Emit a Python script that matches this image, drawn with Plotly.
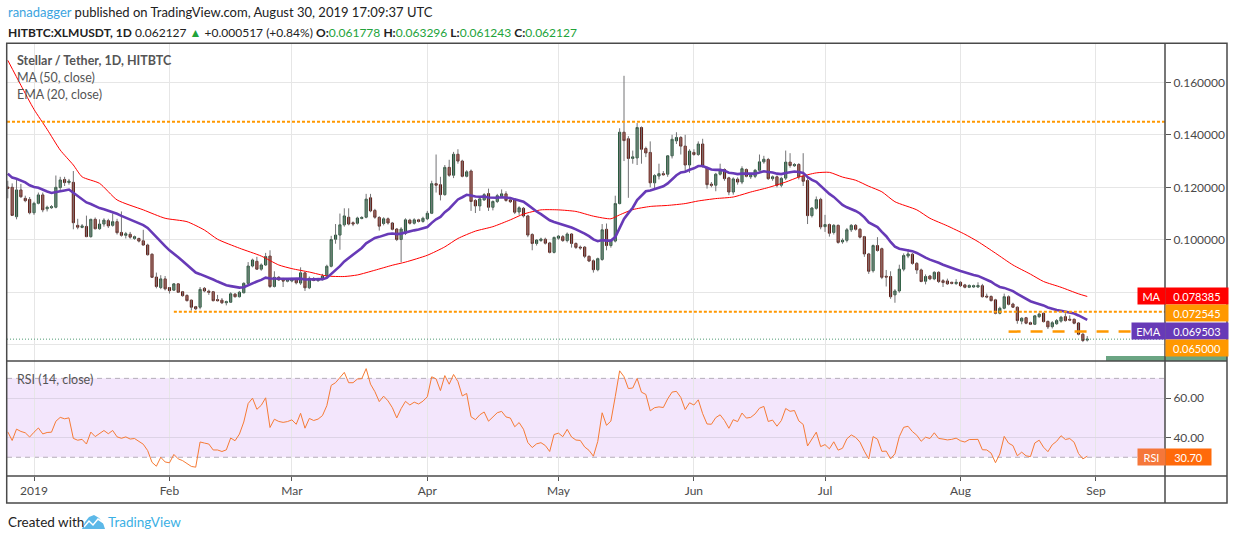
import numpy as np
import pandas as pd
import plotly.graph_objects as go

# daily candles, Dec 26 2018 .. Aug 30 2019
DATES = pd.date_range("2018-12-26", "2019-08-30", freq="D")

OPEN = [
    # Dec 26-31
    0.1201, 0.1200, 0.1088, 0.1190, 0.1158, 0.1154,
    # Jan
    0.1103, 0.1139, 0.1171, 0.1118, 0.1122, 0.1124, 0.1199, 0.1230, 0.1218, 0.1219,
    0.1055, 0.1047, 0.1051, 0.1012, 0.1078, 0.1042, 0.1060, 0.1073, 0.1055, 0.1069,
    0.1028, 0.1017, 0.1021, 0.1005, 0.1005, 0.0996, 0.0980, 0.0945, 0.0858, 0.0818, 0.0851,
    # Feb
    0.0818, 0.0808, 0.0832, 0.0802, 0.0788, 0.0770, 0.0745, 0.0743, 0.0815, 0.0804,
    0.0802, 0.0772, 0.0770, 0.0760, 0.0762, 0.0793, 0.0783, 0.0798, 0.0834, 0.0900,
    0.0918, 0.0888, 0.0904, 0.0938, 0.0822, 0.0857, 0.0846, 0.0842,
    # Mar
    0.0843, 0.0850, 0.0835, 0.0874, 0.0817, 0.0852, 0.0844, 0.0848, 0.0862, 0.0899,
    0.1002, 0.1018, 0.1057, 0.1086, 0.1065, 0.1063, 0.1081, 0.1086, 0.1160, 0.1112,
    0.1085, 0.1062, 0.1080, 0.1064, 0.1041, 0.1001, 0.1025, 0.1075, 0.1063, 0.1076, 0.1070,
    # Apr
    0.1080, 0.1101, 0.1214, 0.1210, 0.1172, 0.1276, 0.1246, 0.1326, 0.1300, 0.1242,
    0.1262, 0.1150, 0.1129, 0.1152, 0.1176, 0.1124, 0.1146, 0.1166, 0.1175, 0.1152,
    0.1152, 0.1106, 0.1120, 0.1091, 0.1020, 0.0986, 0.0997, 0.1002, 0.0988, 0.0952,
    # May
    0.1006, 0.1012, 0.0997, 0.1022, 0.0986, 0.0972, 0.0972, 0.0937, 0.0920, 0.0886,
    0.0925, 0.1040, 0.0978, 0.0995, 0.1138, 0.1410, 0.1385, 0.1310, 0.1312, 0.1428,
    0.1348, 0.1333, 0.1217, 0.1243, 0.1252, 0.1250, 0.1320, 0.1377, 0.1390, 0.1357, 0.1285,
    # Jun
    0.1333, 0.1325, 0.1365, 0.1275, 0.1212, 0.1208, 0.1250, 0.1268, 0.1236, 0.1182,
    0.1231, 0.1220, 0.1268, 0.1240, 0.1242, 0.1265, 0.1297, 0.1306, 0.1233, 0.1240,
    0.1208, 0.1235, 0.1296, 0.1282, 0.1287, 0.1242, 0.1226, 0.1092, 0.1120, 0.1154,
    # Jul
    0.1050, 0.1058, 0.1028, 0.1055, 0.0992, 0.0998, 0.1038, 0.1055, 0.1040, 0.1012,
    0.0946, 0.0882, 0.0978, 0.0966, 0.0861, 0.0860, 0.0790, 0.0805, 0.0888, 0.0938,
    0.0945, 0.0910, 0.0885, 0.0842, 0.0862, 0.0851, 0.0876, 0.0844, 0.0843, 0.0838, 0.0833,
    # Aug
    0.0838, 0.0828, 0.0819, 0.0820, 0.0820, 0.0825, 0.0785, 0.0784, 0.0771, 0.0720,
    0.0739, 0.0783, 0.0755, 0.0743, 0.0690, 0.0703, 0.0684, 0.0678, 0.0707, 0.0720,
    0.0689, 0.0669, 0.0680, 0.0690, 0.0707, 0.0697, 0.0697, 0.0683, 0.0640, 0.061778,
]

HIGH = [
    0.1225, 0.1215, 0.1228, 0.1213, 0.1168, 0.1163,
    0.1145, 0.1180, 0.1180, 0.1130, 0.1132, 0.1245, 0.1240, 0.1240, 0.1232, 0.1262,
    0.1080, 0.1060, 0.1092, 0.1080, 0.1085, 0.1078, 0.1082, 0.1080, 0.1100, 0.1080,
    0.1108, 0.1030, 0.1030, 0.1016, 0.1008, 0.1038, 0.0985, 0.0948, 0.0875, 0.0865, 0.0862,
    0.0820, 0.0835, 0.0834, 0.0805, 0.0792, 0.0772, 0.0748, 0.0820, 0.0820, 0.0810,
    0.0805, 0.0790, 0.0778, 0.0768, 0.0800, 0.0797, 0.0805, 0.0838, 0.0915, 0.0928,
    0.0935, 0.0910, 0.0950, 0.0960, 0.0880, 0.0862, 0.0855, 0.0850,
    0.0855, 0.0855, 0.0895, 0.0878, 0.0860, 0.0858, 0.0855, 0.0870, 0.0905, 0.1015,
    0.1060, 0.1100, 0.1120, 0.1120, 0.1070, 0.1088, 0.1090, 0.1175, 0.1175, 0.1118,
    0.1090, 0.1086, 0.1085, 0.1068, 0.1045, 0.1048, 0.1082, 0.1080, 0.1082, 0.1080, 0.1088,
    0.1110, 0.1225, 0.1325, 0.1240, 0.1285, 0.1305, 0.1335, 0.1345, 0.1305, 0.1265,
    0.1268, 0.1155, 0.1160, 0.1178, 0.1195, 0.1150, 0.1175, 0.1192, 0.1185, 0.1158,
    0.1158, 0.1128, 0.1125, 0.1095, 0.1025, 0.1002, 0.1008, 0.1008, 0.0992, 0.1012,
    0.1018, 0.1018, 0.1028, 0.1025, 0.0990, 0.0978, 0.0976, 0.0940, 0.0925, 0.0932,
    0.1060, 0.1062, 0.1002, 0.1168, 0.1425, 0.1625, 0.1395, 0.1340, 0.1445, 0.1432,
    0.1355, 0.1375, 0.1250, 0.1290, 0.1262, 0.1322, 0.1400, 0.1410, 0.1395, 0.1400, 0.1345,
    0.1345, 0.1375, 0.1385, 0.1280, 0.1220, 0.1255, 0.1290, 0.1272, 0.1240, 0.1238,
    0.1238, 0.1280, 0.1272, 0.1250, 0.1270, 0.1325, 0.1320, 0.1312, 0.1245, 0.1245,
    0.1240, 0.1340, 0.1330, 0.1292, 0.1292, 0.1330, 0.1235, 0.1125, 0.1165, 0.1160,
    0.1095, 0.1062, 0.1060, 0.1058, 0.1005, 0.1045, 0.1060, 0.1060, 0.1045, 0.1015,
    0.0950, 0.0982, 0.1010, 0.0970, 0.0885, 0.0880, 0.0812, 0.0905, 0.0948, 0.0965,
    0.0950, 0.0915, 0.0890, 0.0868, 0.0866, 0.0880, 0.0880, 0.0850, 0.0852, 0.0840, 0.0850,
    0.0842, 0.0832, 0.0830, 0.0829, 0.0838, 0.0832, 0.0795, 0.0788, 0.0775, 0.0745,
    0.0795, 0.0788, 0.0760, 0.0746, 0.0705, 0.0706, 0.0688, 0.0713, 0.0722, 0.0722,
    0.0692, 0.0690, 0.0698, 0.0710, 0.0720, 0.0712, 0.0700, 0.0686, 0.0645, 0.063296,
]

LOW = [
    0.1158, 0.1091, 0.1078, 0.1160, 0.1143, 0.1097,
    0.1095, 0.1135, 0.1105, 0.1108, 0.1118, 0.1120, 0.1190, 0.1205, 0.1210, 0.1040,
    0.1040, 0.1044, 0.1010, 0.1008, 0.1040, 0.1038, 0.1050, 0.1045, 0.1050, 0.1020,
    0.1012, 0.1005, 0.1004, 0.1000, 0.0990, 0.0978, 0.0940, 0.0855, 0.0815, 0.0812, 0.0807,
    0.0795, 0.0805, 0.0797, 0.0783, 0.0765, 0.0730, 0.0732, 0.0735, 0.0800, 0.0790,
    0.0765, 0.0765, 0.0755, 0.0750, 0.0760, 0.0780, 0.0780, 0.0796, 0.0832, 0.0895,
    0.0885, 0.0882, 0.0900, 0.0816, 0.0818, 0.0843, 0.0820, 0.0838,
    0.0838, 0.0830, 0.0828, 0.0805, 0.0812, 0.0842, 0.0840, 0.0845, 0.0858, 0.0895,
    0.0985, 0.0962, 0.1050, 0.1055, 0.1052, 0.1058, 0.1078, 0.1082, 0.1105, 0.1080,
    0.1035, 0.1055, 0.1058, 0.1036, 0.0995, 0.0915, 0.1018, 0.1058, 0.1058, 0.1066, 0.1065,
    0.1075, 0.1098, 0.1180, 0.1150, 0.1168, 0.1240, 0.1235, 0.1290, 0.1238, 0.1238,
    0.1110, 0.1102, 0.1110, 0.1148, 0.1110, 0.1112, 0.1140, 0.1160, 0.1145, 0.1140,
    0.1098, 0.1095, 0.1085, 0.1010, 0.0960, 0.0978, 0.0992, 0.0982, 0.0948, 0.0948,
    0.1000, 0.0992, 0.0990, 0.0970, 0.0965, 0.0962, 0.0930, 0.0915, 0.0875, 0.0880,
    0.0920, 0.0960, 0.0970, 0.0990, 0.1135, 0.1300, 0.1160, 0.1290, 0.1285, 0.1290,
    0.1315, 0.1200, 0.1195, 0.1230, 0.1245, 0.1240, 0.1310, 0.1365, 0.1325, 0.1260, 0.1255,
    0.1320, 0.1320, 0.1275, 0.1195, 0.1200, 0.1185, 0.1245, 0.1225, 0.1170, 0.1172,
    0.1210, 0.1212, 0.1238, 0.1232, 0.1235, 0.1260, 0.1290, 0.1228, 0.1225, 0.1200,
    0.1200, 0.1228, 0.1275, 0.1278, 0.1230, 0.1205, 0.1060, 0.1085, 0.1115, 0.1040,
    0.1030, 0.1012, 0.1020, 0.0985, 0.0985, 0.0990, 0.1030, 0.1035, 0.1005, 0.0935,
    0.0870, 0.0875, 0.0955, 0.0850, 0.0822, 0.0775, 0.0760, 0.0798, 0.0880, 0.0930,
    0.0905, 0.0870, 0.0838, 0.0830, 0.0846, 0.0846, 0.0835, 0.0820, 0.0828, 0.0830, 0.0828,
    0.0820, 0.0815, 0.0816, 0.0817, 0.0817, 0.0780, 0.0777, 0.0765, 0.0716, 0.0716,
    0.0735, 0.0750, 0.0740, 0.0680, 0.0678, 0.0678, 0.0675, 0.0675, 0.0702, 0.0685,
    0.0660, 0.0662, 0.0676, 0.0684, 0.0688, 0.0690, 0.0678, 0.0636, 0.0610, 0.061243,
]

CLOSE = [
    0.1196, 0.1093, 0.1190, 0.1164, 0.1149, 0.1103,
    0.1139, 0.1171, 0.1114, 0.1124, 0.1126, 0.1200, 0.1228, 0.1218, 0.1224, 0.1065,
    0.1048, 0.1053, 0.1012, 0.1078, 0.1042, 0.1060, 0.1075, 0.1053, 0.1069, 0.1027,
    0.1017, 0.1023, 0.1010, 0.1012, 0.0995, 0.0980, 0.0943, 0.0857, 0.0822, 0.0851, 0.0813,
    0.0806, 0.0832, 0.0800, 0.0787, 0.0768, 0.0743, 0.0737, 0.0811, 0.0805, 0.0800,
    0.0768, 0.0768, 0.0760, 0.0764, 0.0794, 0.0783, 0.0800, 0.0834, 0.0900, 0.0923,
    0.0888, 0.0904, 0.0936, 0.0822, 0.0857, 0.0847, 0.0843, 0.0846,
    0.0852, 0.0836, 0.0874, 0.0817, 0.0853, 0.0845, 0.0850, 0.0862, 0.0899, 0.1001,
    0.1018, 0.1057, 0.1091, 0.1060, 0.1060, 0.1083, 0.1085, 0.1155, 0.1110, 0.1086,
    0.1052, 0.1080, 0.1064, 0.1040, 0.1001, 0.1041, 0.1076, 0.1063, 0.1076, 0.1070, 0.1082,
    0.1101, 0.1214, 0.1208, 0.1172, 0.1276, 0.1246, 0.1326, 0.1300, 0.1242, 0.1259,
    0.1146, 0.1129, 0.1156, 0.1172, 0.1124, 0.1146, 0.1168, 0.1175, 0.1150, 0.1145,
    0.1105, 0.1122, 0.1091, 0.1018, 0.0986, 0.0999, 0.1003, 0.0987, 0.0952, 0.1009,
    0.1014, 0.0997, 0.1022, 0.0986, 0.0971, 0.0969, 0.0937, 0.0919, 0.0886, 0.0928,
    0.1038, 0.0978, 0.0997, 0.1138, 0.1410, 0.1378, 0.1310, 0.1316, 0.1428, 0.1345,
    0.1331, 0.1217, 0.1245, 0.1252, 0.1248, 0.1320, 0.1383, 0.1390, 0.1357, 0.1285, 0.1338,
    0.1325, 0.1365, 0.1282, 0.1210, 0.1208, 0.1250, 0.1268, 0.1233, 0.1182, 0.1232,
    0.1220, 0.1271, 0.1242, 0.1246, 0.1265, 0.1297, 0.1307, 0.1233, 0.1240, 0.1208,
    0.1234, 0.1296, 0.1283, 0.1287, 0.1240, 0.1223, 0.1092, 0.1121, 0.1153, 0.1049,
    0.1058, 0.1025, 0.1055, 0.0990, 0.0998, 0.1038, 0.1055, 0.1040, 0.1010, 0.0946,
    0.0880, 0.0978, 0.0959, 0.0857, 0.0858, 0.0783, 0.0805, 0.0888, 0.0940, 0.0946,
    0.0910, 0.0885, 0.0841, 0.0860, 0.0851, 0.0876, 0.0841, 0.0837, 0.0832, 0.0834, 0.0838,
    0.0825, 0.0819, 0.0826, 0.0825, 0.0826, 0.0783, 0.0782, 0.0768, 0.0720, 0.0739,
    0.0783, 0.0754, 0.0743, 0.0692, 0.0701, 0.0682, 0.0678, 0.0710, 0.0717, 0.0688,
    0.0668, 0.0684, 0.0692, 0.0705, 0.0692, 0.0694, 0.0682, 0.0640, 0.06161, 0.062127,
]

# MA(50) (history before Dec 26 is not on the chart)
MA50_DATES = [
    "2018-12-26", "2018-12-29", "2019-01-01", "2019-01-04", "2019-01-07", "2019-01-10",
    "2019-01-12", "2019-01-16", "2019-01-20", "2019-01-26", "2019-01-31", "2019-02-05",
    "2019-02-09", "2019-02-12", "2019-02-17", "2019-02-22", "2019-02-26", "2019-03-01",
    "2019-03-05", "2019-03-09", "2019-03-13", "2019-03-16", "2019-03-20", "2019-03-24",
    "2019-03-27", "2019-04-01", "2019-04-05", "2019-04-08", "2019-04-12", "2019-04-16",
    "2019-04-20", "2019-04-23", "2019-04-27", "2019-05-01", "2019-05-05", "2019-05-09",
    "2019-05-13", "2019-05-15", "2019-05-18", "2019-05-22", "2019-05-26", "2019-05-30",
    "2019-06-02", "2019-06-06", "2019-06-10", "2019-06-14", "2019-06-18", "2019-06-22",
    "2019-06-25", "2019-06-29", "2019-07-02", "2019-07-05", "2019-07-08", "2019-07-11",
    "2019-07-14", "2019-07-17", "2019-07-22", "2019-07-25", "2019-07-29", "2019-08-02",
    "2019-08-05", "2019-08-09", "2019-08-13", "2019-08-17", "2019-08-20", "2019-08-24",
    "2019-08-28", "2019-08-30",
]
MA50_VALUES = [
    0.1684, 0.1589, 0.1497, 0.1421, 0.1342, 0.1285,
    0.1240, 0.1215, 0.1152, 0.1114, 0.1082, 0.1069,
    0.1037, 0.1002, 0.0968, 0.0938, 0.0904, 0.0890,
    0.0877, 0.0862, 0.0860, 0.0866, 0.0884, 0.0903,
    0.0915, 0.0941, 0.0973, 0.1005, 0.1033, 0.1050,
    0.1076, 0.1098, 0.1114, 0.1114, 0.1108, 0.1090,
    0.1080, 0.1095, 0.1115, 0.1127, 0.1131, 0.1138,
    0.1148, 0.1157, 0.1163, 0.1182, 0.1199, 0.1220,
    0.1239, 0.1255, 0.1257, 0.1239, 0.1227, 0.1204,
    0.1183, 0.1145, 0.1114, 0.1082, 0.1053, 0.1021,
    0.0993, 0.0949, 0.0904, 0.0869, 0.0841, 0.0819,
    0.0794, 0.0784,
]

# starting points at its left edge
EMA20_START = 0.1258
RSI_GAIN_START = 0.0030
RSI_LOSS_START = 0.0040

LEVEL_HIGH = 0.145
LEVEL_SUPPORT = 0.072545
LEVEL_LOW = 0.065
SUPPORT_FROM = "2019-02-02"
LOW_FROM = "2019-08-12"

MONTH_TICKS = ["2019-01-01", "2019-02-01", "2019-03-01", "2019-04-01", "2019-05-01",
               "2019-06-01", "2019-07-01", "2019-08-01", "2019-09-01"]
MONTH_LABELS = ["2019", "Feb", "Mar", "Apr", "May", "Jun", "Jul", "Aug", "Sep"]
PRICE_TICKS = [0.06, 0.08, 0.10, 0.12, 0.14, 0.16]
# 0.06 / 0.08 sit behind the value tags on the reference
PRICE_LABELS = ["", "", "0.100000", "0.120000", "0.140000", "0.160000"]
RSI_TICKS = [40, 60]
RSI_LABELS = ["40.00", "60.00"]

X_RANGE = ["2018-12-25 19:40", "2019-09-16 19:00"]

# indicators from the closes
ema20 = []
e = EMA20_START
for c in CLOSE:
    e = e + (c - e) * 2 / 21
    ema20.append(e)

rsi = []
g, l = RSI_GAIN_START, RSI_LOSS_START
rsi.append(100 - 100 / (1 + g / l))
for i in range(1, len(CLOSE)):
    d = CLOSE[i] - CLOSE[i - 1]
    g = (g * 13 + max(d, 0)) / 14
    l = (l * 13 + max(-d, 0)) / 14
    rsi.append(100 - 100 / (1 + g / l))

# pixel helpers for the frame / labels
L, R, T, B = 7, 1165, 43, 476
def px(x):
    return (x - L) / (R - L)
def py(y):
    return (B - y) / (B - T)

SPLIT = py(361)
FONT = "Lato"

fig = go.Figure()

# wicks
wx, wy = [], []
for d, lo, hi in zip(DATES, LOW, HIGH):
    wx += [d, d, None]
    wy += [lo, hi, None]
fig.add_trace(go.Scatter(x=wx, y=wy, mode="lines", line=dict(color="#737375", width=1),
                         hoverinfo="skip", xaxis="x", yaxis="y"))

# bodies
fig.add_trace(go.Candlestick(
    x=DATES, open=OPEN, close=CLOSE,
    high=np.maximum(OPEN, CLOSE), low=np.minimum(OPEN, CLOSE),
    increasing=dict(fillcolor="#6ba583", line=dict(color="#225437", width=1)),
    decreasing=dict(fillcolor="#d75442", line=dict(color="#5b1a13", width=1)),
    whiskerwidth=0, xaxis="x", yaxis="y"))

fig.add_trace(go.Scatter(x=MA50_DATES, y=MA50_VALUES, mode="lines",
                         line=dict(color="#ff0000", width=1, shape="spline", smoothing=0.6),
                         xaxis="x", yaxis="y"))
fig.add_trace(go.Scatter(x=DATES, y=ema20, mode="lines",
                         line=dict(color="#673ab7", width=2.6), xaxis="x", yaxis="y"))
fig.add_trace(go.Scatter(x=DATES, y=rsi, mode="lines",
                         line=dict(color="#f67b35", width=1), xaxis="x2", yaxis="y2"))

grid = "#e6e6e6"
axis_font = dict(family=FONT, size=12, color="#4a4a4a")

fig.update_layout(
    width=1234, height=540,
    margin=dict(l=L, r=1234 - R, t=T, b=540 - B),
    paper_bgcolor="white", plot_bgcolor="white",
    showlegend=False,
    font=dict(family=FONT),
    xaxis=dict(domain=[0, 1], anchor="y", type="date", range=X_RANGE,
               tickvals=MONTH_TICKS, showticklabels=False, showgrid=True,
               gridcolor=grid, zeroline=False, rangeslider=dict(visible=False)),
    xaxis2=dict(domain=[0, 1], anchor="y2", type="date", range=X_RANGE,
                tickvals=MONTH_TICKS, ticktext=MONTH_LABELS, showgrid=True,
                gridcolor=grid, zeroline=False, ticks="outside", ticklen=4,
                tickcolor="#555", tickfont=axis_font),
    yaxis=dict(domain=[SPLIT, 1], anchor="x", side="right", range=[0.0538, 0.1750],
               tickvals=PRICE_TICKS, ticktext=PRICE_LABELS, showgrid=True,
               gridcolor=grid, zeroline=False, ticks="outside", ticklen=5,
               tickcolor="#555", tickfont=axis_font),
    yaxis2=dict(domain=[0, SPLIT], anchor="x2", side="right", range=[20.5, 78.8],
                tickvals=RSI_TICKS, ticktext=RSI_LABELS, showgrid=True,
                gridcolor="#ddd3e6", zeroline=False, ticks="outside", ticklen=5,
                tickcolor="#555", tickfont=axis_font),
)

shapes = []
# RSI band
shapes.append(dict(type="rect", xref="paper", yref="y2", x0=0, x1=1, y0=30, y1=70,
                   fillcolor="#f3e6fc", line=dict(width=0), layer="below"))
for lvl in (30, 70):
    shapes.append(dict(type="line", xref="paper", yref="y2", x0=0, x1=1, y0=lvl, y1=lvl,
                       line=dict(color="#b4adb9", width=1, dash="5px,4px"), layer="between"))
# horizontal levels
shapes.append(dict(type="line", xref="x", yref="y", x0=X_RANGE[0], x1=X_RANGE[1],
                   y0=LEVEL_HIGH, y1=LEVEL_HIGH,
                   line=dict(color="#ff9800", width=2, dash="3px,2px")))
shapes.append(dict(type="line", xref="x", yref="y", x0=SUPPORT_FROM, x1=X_RANGE[1],
                   y0=LEVEL_SUPPORT, y1=LEVEL_SUPPORT,
                   line=dict(color="#ff9800", width=2, dash="3px,2px")))
shapes.append(dict(type="line", xref="x", yref="y", x0=LOW_FROM, x1="2019-09-16",
                   y0=LEVEL_LOW, y1=LEVEL_LOW,
                   line=dict(color="#ff9800", width=2.5, dash="12px,10px")))
# last price line
shapes.append(dict(type="line", xref="x", yref="y", x0=X_RANGE[0], x1=X_RANGE[1],
                   y0=CLOSE[-1], y1=CLOSE[-1],
                   line=dict(color="#4f9a74", width=1, dash="1px,2px")))
# clipped last price tag
shapes.append(dict(type="rect", xref="paper", yref="paper", x0=px(1106), x1=px(1227),
                   y0=py(361), y1=py(356), fillcolor="#6ba583", line=dict(width=0)))

# frame
frame = dict(color="#4a4a4a", width=1.5)
shapes.append(dict(type="rect", xref="paper", yref="paper", x0=px(6.7), x1=px(1227),
                   y0=py(503), y1=py(43.3), line=frame))
shapes.append(dict(type="line", xref="paper", yref="paper", x0=1, x1=1,
                   y0=py(503), y1=py(43.3), line=frame))
for yy in (361, 476):
    shapes.append(dict(type="line", xref="paper", yref="paper", x0=px(6.7), x1=px(1227),
                       y0=py(yy), y1=py(yy), line=frame))

# small logo in the footer
def pth(pts):
    s = "M " + " L ".join(f"{px(a):.5f},{py(b):.5f}" for a, b in pts)
    return s + " Z"
shapes.append(dict(type="path", xref="paper", yref="paper",
                   path=pth([(82, 529), (85, 522), (89, 517), (94, 515), (99, 518),
                             (103, 523), (105, 529)]),
                   fillcolor="#5cb8e8", line=dict(width=0)))
shapes.append(dict(type="path", xref="paper", yref="paper",
                   path="M " + " L ".join(f"{px(a):.5f},{py(b):.5f}" for a, b in
                                          [(84, 527), (89, 521), (93, 525), (98, 519), (104, 523)]),
                   line=dict(color="white", width=1.5)))

anns = []
def text(x, y, s, size=12.5, color="#4a4a4a", anchor="left"):
    anns.append(dict(xref="paper", yref="paper", x=px(x), y=py(y), text=s,
                     showarrow=False, xanchor=anchor, yanchor="middle",
                     font=dict(family=FONT, size=size, color=color)))

def tag(x0, x1, yc, s, bg, size=11):
    anns.append(dict(xref="paper", yref="paper", x=px(x0), y=py(yc), text=s,
                     showarrow=False, xanchor="left", yanchor="middle",
                     width=x1 - x0, height=16, bgcolor=bg, borderpad=0, align="center",
                     font=dict(family=FONT, size=size, color="white")))

green = "#22a33a"
text(6, 12, "<span style='color:#3ba4e0'>ranadagger</span> published on TradingView.com, "
            "August 30, 2019 17:09:37 UTC", size=13, color="#222")
text(6, 32, f"<b>HITBTC:XLMUSDT, 1D</b> 0.062127 <span style='color:{green}'>▲</span> "
            f"+0.000517 (+0.84%) <b>O:</b><span style='color:{green}'>0.061778</span> "
            f"<b>H:</b><span style='color:{green}'>0.063296</span> "
            f"<b>L:</b><span style='color:{green}'>0.061243</span> "
            f"<b>C:</b><span style='color:{green}'>0.062127</span>", size=12, color="#222")
text(15, 60, "<b>Stellar / Tether, 1D, HITBTC</b>", size=12.5, color="#555")
text(15, 78, "MA (50, close)", size=12.5, color="#555")
text(15, 95, "EMA (20, close)", size=12.5, color="#555")
text(15, 379, "RSI (14, close)", size=12.5, color="#555")
text(6, 522, "Created with", size=13.5, color="#222")
text(106, 522, "TradingView", size=13.5, color="#3bb0e4")

tag(1137, 1164, 296.3, "MA", "#ff0000")
tag(1165, 1227, 296.3, "0.078385", "#ff0000")
tag(1165, 1227, 313.4, "0.072545", "#ff9800")
tag(1131, 1164, 330.5, "EMA", "#673ab7")
tag(1165, 1227, 330.5, "0.069503", "#673ab7")
tag(1165, 1227, 347.6, "0.065000", "#ff9800")
tag(1137, 1164, 457.2, "RSI", "#f5773a")
tag(1165, 1210, 457.2, "30.70", "#ff6a0a")

fig.update_layout(shapes=shapes, annotations=anns)
# the page body has a default 8px margin; drop it so pixels line up
fig.write_html("out.html", config={"displayModeBar": False},
               post_script="document.body.style.margin='0';")
